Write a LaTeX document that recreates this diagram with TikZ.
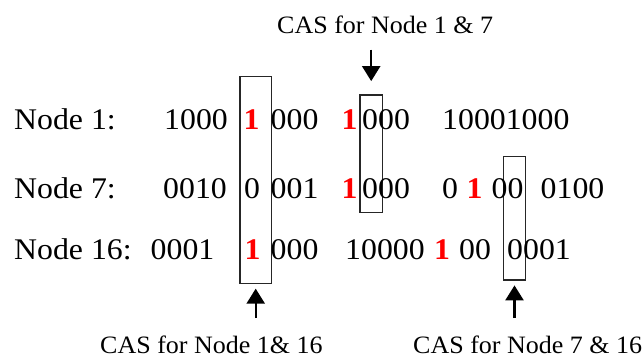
\documentclass[tikz,border=0pt]{standalone}
\usepackage{fontspec}
\setmainfont{Liberation Serif}
\newfontfamily\rowfont[FakeStretch=1.06]{Liberation Serif}
\newfontfamily\capfont[FakeStretch=1.04]{Liberation Serif}
\usetikzlibrary{arrows.meta}
\begin{document}
\begin{tikzpicture}[x=1pt,y=-1pt,
  bits/.style={anchor=base west,inner sep=0pt,font=\rowfont\fontsize{30}{30}\selectfont},
  hit/.style={bits,text=red,font=\rowfont\fontsize{30}{30}\selectfont\bfseries},
  cas/.style={anchor=base west,inner sep=0pt,font=\capfont\fontsize{25}{25}\selectfont},
  casbox/.style={draw=black!85,line width=1.3pt,inner sep=0pt},
  pointer/.style={-{Triangle[length=15pt,width=18pt]},line width=2.4pt}]
\useasboundingbox (0,0) rectangle (643,359);

% frames around the compared bit positions
\node[casbox,minimum width=31.3pt,minimum height=206.6pt] (b1) at (255.7,180) {};
\node[casbox,minimum width=22.3pt,minimum height=117.7pt] (b2) at (371.2,153.9) {};
\node[casbox,minimum width=22.4pt,minimum height=123.3pt] (b3) at (514.5,218.4) {};

% Node 1
\node[bits] (n1) at (14,129.5) {Node 1:};
\node[bits] (n1a) at (164,129.5) {1000};
\node[hit]  (n1b) at (243.5,129.5) {1};
\node[bits] (n1c) at (270.5,129.5) {000};
\node[hit]  (n1d) at (341.5,129.5) {1};
\node[bits] (n1e) at (362,129.5) {000};
\node[bits] (n1f) at (442,129.5) {10001000};

% Node 7
\node[bits] (n7) at (14,198.3) {Node 7:};
\node[bits] (n7a) at (163,198.3) {0010};
\node[bits] (n7b) at (244,198.3) {0};
\node[bits] (n7c) at (270.5,198.3) {001};
\node[hit]  (n7d) at (341.5,198.3) {1};
\node[bits] (n7e) at (362,198.3) {000};
\node[bits] (n7f) at (442,198.3) {0};
\node[hit]  (n7g) at (466.5,198.3) {1};
\node[bits] (n7h) at (491.5,198.3) {00};
\node[bits] (n7i) at (540.5,198.3) {0100};

% Node 16
\node[bits] (n16) at (14,259) {Node 16:};
\node[bits] (n16a) at (150.5,259) {0001};
\node[hit]  (n16b) at (244.5,259) {1};
\node[bits] (n16c) at (270.5,259) {000};
\node[bits] (n16d) at (345,259) {10000};
\node[hit]  (n16e) at (434,259) {1};
\node[bits] (n16f) at (459,259) {00};
\node[bits] (n16g) at (507,259) {0001};

% captions
\node[cas] (l2) at (277,33.3) {CAS for Node 1 \& 7};
\node[cas] (l1) at (100,353) {CAS for Node 1\& 16};
\node[cas] (l3) at (413,353) {CAS for Node 7 \& 16};

% pointers
\draw[pointer,shorten <=16pt,shorten >=13.3pt] (l2.south -| b2.north) -- (b2.north);
\draw[pointer,shorten <=17pt,shorten >=4.7pt] (b1.south |- l1.north) -- (b1.south);
\draw[pointer,shorten <=17pt,shorten >=4.7pt] (b3.south |- l3.north) -- (b3.south);
\end{tikzpicture}
\end{document}
